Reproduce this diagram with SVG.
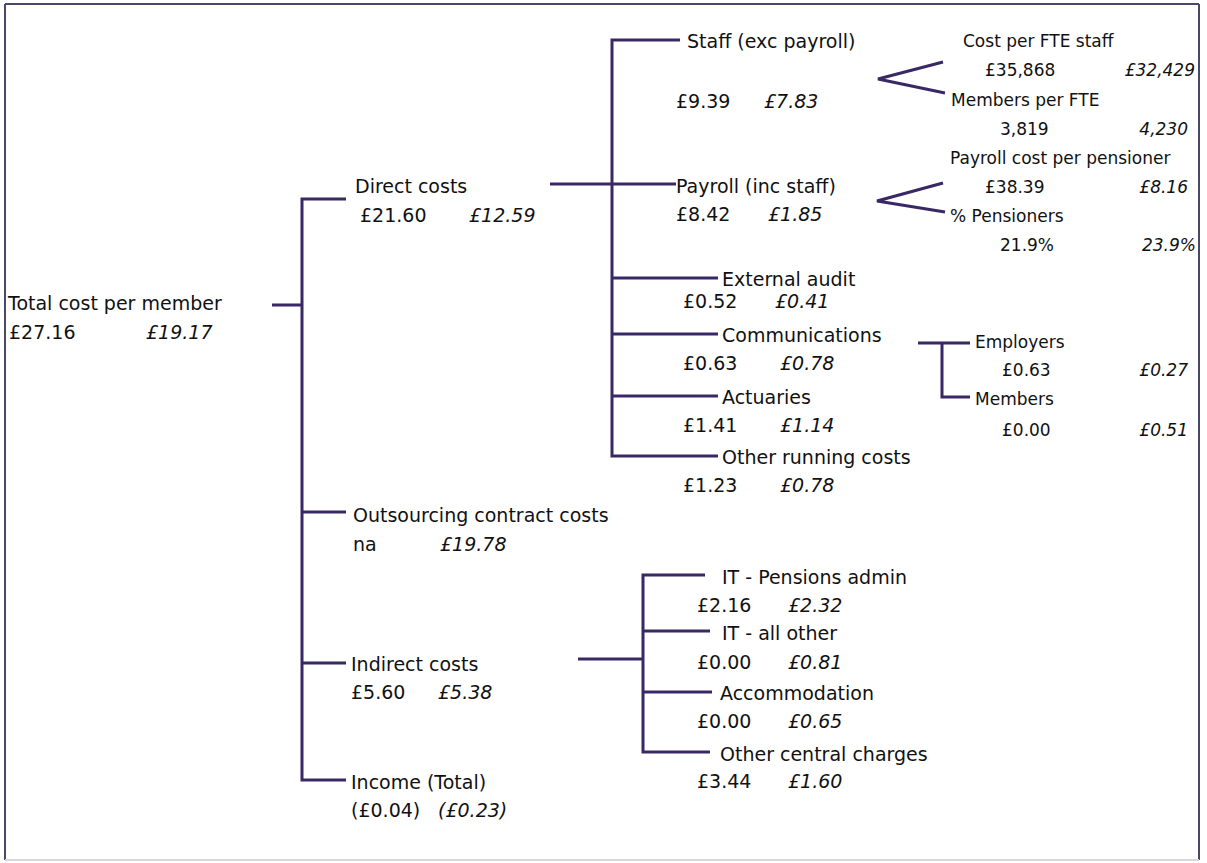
<svg xmlns="http://www.w3.org/2000/svg" width="1207" height="863" viewBox="0 0 1207 863">
<style>
text{font-family:"DejaVu Sans","Verdana",sans-serif;font-size:19px;fill:#111}
.i{font-style:italic}
.s{font-size:17px}
.r{text-anchor:end}
.c{stroke:#3a2766;stroke-width:3;fill:none}
</style>
<rect x="0" y="0" width="1207" height="863" fill="#fff"/>
<g id="frame">
<line x1="5" y1="4" x2="1199" y2="4" stroke="#4a4868" stroke-width="2"/>
<line x1="5" y1="4" x2="5" y2="860" stroke="#4a4868" stroke-width="2"/>
<line x1="1199" y1="4" x2="1199" y2="860" stroke="#4a4868" stroke-width="2"/>
<line x1="5" y1="860" x2="1199" y2="860" stroke="#d8d8dc" stroke-width="2"/>
</g>
<g id="connectors">
<path class="c" d="M272 305H302M346 199H302V780H346M302 512H346M302 663H346"/>
<path class="c" d="M550 184H676M680 40H612V456H718M612 278H718M612 334H718M612 396H718"/>
<path class="c" d="M943 62L878 79L945 93M943 183L877 201L945 212"/>
<path class="c" d="M918 343H970M942 343V397H970"/>
<path class="c" d="M578 659H643M705 575H643V752H710M643 631H710M643 692H712"/>
</g>
<g id="total"><text x="8" y="310">Total cost per member</text><text x="9" y="339">£27.16</text><text class="i" x="146" y="339">£19.17</text></g>
<g id="direct"><text x="355" y="193">Direct costs</text><text x="360" y="222">£21.60</text><text class="i" x="469" y="222">£12.59</text></g>
<g id="staff"><text x="687" y="48">Staff (exc payroll)</text><text x="676" y="108">£9.39</text><text class="i" x="764" y="108">£7.83</text></g>
<g id="payroll"><text x="676" y="193">Payroll (inc staff)</text><text x="676" y="221">£8.42</text><text class="i" x="768" y="221">£1.85</text></g>
<g id="audit"><text x="722" y="286">External audit</text><text x="683" y="308">£0.52</text><text class="i" x="775" y="308">£0.41</text></g>
<g id="comms"><text x="722" y="342">Communications</text><text x="683" y="370">£0.63</text><text class="i" x="780" y="370">£0.78</text></g>
<g id="actuaries"><text x="722" y="404">Actuaries</text><text x="683" y="432">£1.41</text><text class="i" x="780" y="432">£1.14</text></g>
<g id="running"><text x="722" y="464">Other running costs</text><text x="683" y="492">£1.23</text><text class="i" x="780" y="492">£0.78</text></g>
<g id="fte"><text class="s" x="963" y="47">Cost per FTE staff</text><text class="s" x="985" y="76">£35,868</text><text class="s i r" x="1195" y="76">£32,429</text></g>
<g id="members-fte"><text class="s" x="951" y="106">Members per FTE</text><text class="s" x="1000" y="135">3,819</text><text class="s i r" x="1188" y="135">4,230</text></g>
<g id="pensioner"><text class="s" x="950" y="164">Payroll cost per pensioner</text><text class="s" x="985" y="193">£38.39</text><text class="s i r" x="1188" y="193">£8.16</text></g>
<g id="pct"><text class="s" x="950" y="222">% Pensioners</text><text class="s" x="1000" y="251">21.9%</text><text class="s i r" x="1196" y="251">23.9%</text></g>
<g id="employers"><text class="s" x="975" y="348">Employers</text><text class="s" x="1002" y="376">£0.63</text><text class="s i r" x="1188" y="376">£0.27</text></g>
<g id="members"><text class="s" x="975" y="405">Members</text><text class="s" x="1002" y="436">£0.00</text><text class="s i r" x="1188" y="436">£0.51</text></g>
<g id="outsourcing"><text x="353" y="522">Outsourcing contract costs</text><text x="353" y="551">na</text><text class="i" x="440" y="551">£19.78</text></g>
<g id="indirect"><text x="351" y="671">Indirect costs</text><text x="351" y="699">£5.60</text><text class="i" x="438" y="699">£5.38</text></g>
<g id="it-pensions"><text x="722" y="584">IT - Pensions admin</text><text x="697" y="612">£2.16</text><text class="i" x="788" y="612">£2.32</text></g>
<g id="it-other"><text x="722" y="640">IT - all other</text><text x="697" y="669">£0.00</text><text class="i" x="788" y="669">£0.81</text></g>
<g id="accommodation"><text x="720" y="700">Accommodation</text><text x="697" y="728">£0.00</text><text class="i" x="788" y="728">£0.65</text></g>
<g id="central"><text x="720" y="761">Other central charges</text><text x="697" y="788">£3.44</text><text class="i" x="788" y="788">£1.60</text></g>
<g id="income"><text x="351" y="789">Income (Total)</text><text x="351" y="817">(£0.04)</text><text class="i" x="438" y="817">(£0.23)</text></g>
</svg>
